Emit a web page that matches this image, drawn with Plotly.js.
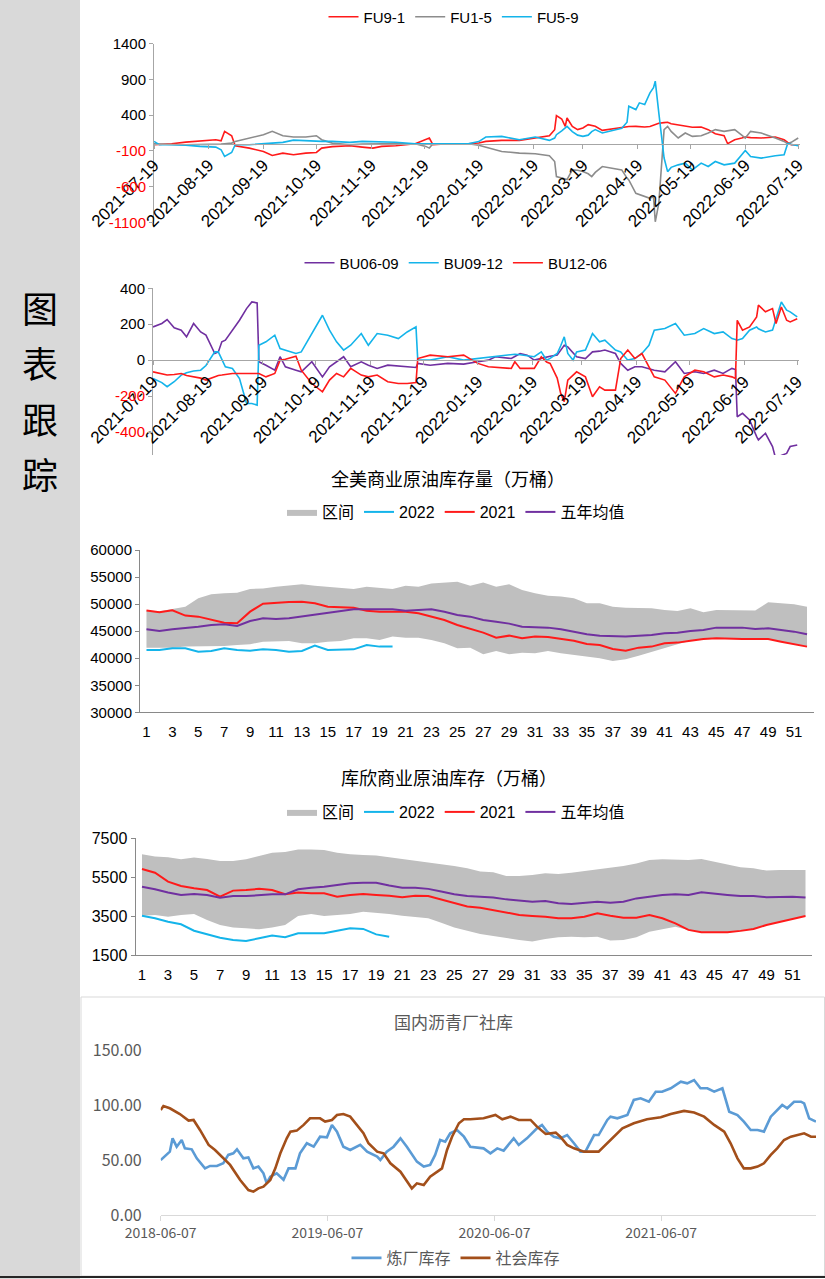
<!DOCTYPE html>
<html><head><meta charset="utf-8">
<script src="https://cdn.plot.ly/plotly-3.0.1.min.js"></script>
<style>html,body{margin:0;padding:0;background:#fff}#chart{width:825px;height:1279px}</style>
</head><body><div id="chart"></div>
<script>
// ---------- Panel 1: FU spreads ----------
const fuDates = ['2021-07-19','2021-07-22','2021-07-29','2021-08-06','2021-08-14','2021-08-23','2021-08-26','2021-08-28','2021-09-01','2021-09-03','2021-09-11','2021-09-19','2021-09-24','2021-09-30','2021-10-06','2021-10-13','2021-10-19','2021-10-22','2021-10-28','2021-11-07','2021-11-14','2021-11-20','2021-11-25','2021-12-03','2021-12-14','2021-12-20','2021-12-22','2021-12-24','2022-01-02','2022-01-13','2022-01-19','2022-01-23','2022-02-01','2022-02-11','2022-02-20','2022-02-28','2022-03-03','2022-03-04','2022-03-07','2022-03-09','2022-03-10','2022-03-13','2022-03-16','2022-03-19','2022-03-22','2022-03-24','2022-03-26','2022-03-30','2022-04-04','2022-04-10','2022-04-13','2022-04-14','2022-04-18','2022-04-20','2022-04-23','2022-04-26','2022-04-28','2022-04-29','2022-05-01','2022-05-04','2022-05-06','2022-05-08','2022-05-12','2022-05-16','2022-05-20','2022-05-25','2022-05-29','2022-06-02','2022-06-07','2022-06-09','2022-06-13','2022-06-17','2022-06-19','2022-06-22','2022-06-28','2022-07-06','2022-07-11','2022-07-13','2022-07-15','2022-07-19'];
const fu91 = [-14,-10,0,23,42,56,42,173,112,-28,-61,-108,-164,-131,-154,-131,-122,-61,-40,-28,-47,-61,-37,-28,0,56,80,-14,0,0,10,33,47,47,80,112,196,393,346,243,360,243,197,220,267,255,243,187,205,220,230,240,243,240,234,240,260,270,285,295,300,280,260,240,230,234,197,140,112,0,56,80,94,85,80,94,56,20,-14,-14];
const fu15 = [0,0,-10,-14,-14,-14,-5,0,9,30,80,126,173,112,94,94,112,56,9,-14,-5,0,0,0,0,-37,-61,0,0,0,-20,-47,-108,-131,-140,-168,-248,-459,-482,-490,-500,-365,-370,-388,-420,-459,-400,-318,-342,-365,-480,-505,-693,-710,-739,-763,-739,-1090,-833,197,243,173,80,150,103,112,150,197,173,180,197,120,80,173,150,80,33,0,20,80];
const fu59 = [33,-14,-14,-20,-37,-47,-84,-178,-122,-14,-14,0,5,19,50,40,33,33,33,19,33,30,33,20,0,0,0,0,0,0,30,94,103,56,94,47,80,126,180,230,243,170,120,103,120,170,197,150,180,215,300,524,477,571,548,711,782,875,430,-200,-390,-330,-295,-271,-365,-271,-318,-248,-295,-290,-271,-154,-94,-178,-201,-168,-154,0,-10,-28];
const spreadTicks = ['2021-07-19','2021-08-19','2021-09-19','2021-10-19','2021-11-19','2021-12-19','2022-01-19','2022-02-19','2022-03-19','2022-04-19','2022-05-19','2022-06-19','2022-07-19'];
const fuYTicks = [1400,900,400,-100,-600,-1100];

// ---------- Panel 2: BU spreads ----------
const buDates = ['2021-07-19','2021-07-24','2021-07-27','2021-07-31','2021-08-04','2021-08-07','2021-08-11','2021-08-15','2021-08-18','2021-08-21','2021-08-23','2021-08-25','2021-08-27','2021-08-29','2021-09-02','2021-09-06','2021-09-10','2021-09-13','2021-09-16','2021-09-17','2021-09-21','2021-09-26','2021-09-29','2021-10-02','2021-10-08','2021-10-11','2021-10-17','2021-10-23','2021-10-27','2021-10-31','2021-11-04','2021-11-08','2021-11-14','2021-11-18','2021-11-23','2021-11-29','2021-12-05','2021-12-10','2021-12-15','2021-12-16','2021-12-23','2022-01-02','2022-01-11','2022-01-19','2022-01-25','2022-01-29','2022-02-02','2022-02-07','2022-02-09','2022-02-12','2022-02-16','2022-02-20','2022-02-24','2022-02-27','2022-03-01','2022-03-05','2022-03-07','2022-03-09','2022-03-11','2022-03-14','2022-03-16','2022-03-21','2022-03-25','2022-03-29','2022-04-01','2022-04-07','2022-04-10','2022-04-14','2022-04-18','2022-04-22','2022-04-26','2022-04-29','2022-05-05','2022-05-11','2022-05-16','2022-05-22','2022-05-27','2022-06-02','2022-06-07','2022-06-12','2022-06-14','2022-06-15','2022-06-18','2022-06-22','2022-06-26','2022-06-27','2022-07-01','2022-07-05','2022-07-07','2022-07-10','2022-07-13','2022-07-15','2022-07-19'];
const bu0609 = [185,204,226,180,167,130,204,157,139,74,37,46,102,111,167,222,287,324,319,-9,-28,-56,19,-37,-56,-65,-9,-93,-37,-9,19,-37,-9,-28,-46,-28,-33,-37,-41,-18,-28,-18,-22,-9,0,19,15,9,20,37,28,0,10,19,22,28,55,83,74,40,19,9,46,50,56,37,-18,-56,-37,-37,-46,-56,-65,-9,-74,-65,-74,-56,-74,-46,-52,-315,-296,-333,-426,-444,-407,-481,-556,-530,-519,-481,-472];
const bu0912 = [-102,-125,-148,-120,-83,-70,-60,-56,-30,20,46,46,0,-37,-46,-102,-241,-241,-250,83,102,139,65,56,37,46,148,250,167,102,56,83,148,83,148,139,120,157,185,0,0,19,0,9,15,19,25,30,33,30,25,19,46,0,10,37,80,130,37,0,46,56,148,102,111,56,46,0,9,37,83,167,176,204,139,148,176,148,157,120,115,111,120,167,185,175,157,167,230,324,278,269,241];
const bu1206 = [-65,-75,-83,-80,-74,-85,-93,-100,-111,-100,-95,-85,-83,-80,-74,-74,-74,-74,-74,-74,-93,-74,0,5,22,-56,-130,-176,-111,-74,-93,-46,-83,-93,-83,-120,-130,-130,-125,9,28,19,28,-18,-37,-40,-46,-46,-9,-46,-46,-46,19,-10,-18,-100,-185,-231,-111,-80,-65,-93,-204,-148,-167,-167,9,56,9,37,-37,-93,-111,-185,-93,-56,-65,-93,-83,-93,-102,222,167,185,241,306,269,287,204,296,222,213,231];
const buYTicks = [400,200,0,-200,-400];

// ---------- Panel 3: US commercial crude stocks (10k bbl) ----------
const weeks = [1,2,3,4,5,6,7,8,9,10,11,12,13,14,15,16,17,18,19,20,21,22,23,24,25,26,27,28,29,30,31,32,33,34,35,36,37,38,39,40,41,42,43,44,45,46,47,48,49,50,51,52];
const weekTicks = [1,3,5,7,9,11,13,15,17,19,21,23,25,27,29,31,33,35,37,39,41,43,45,47,49,51];
const usUpper = [48800,48700,49100,49530,51070,51800,52000,52100,52800,52900,53200,53400,53650,53400,53200,53000,52800,53200,53000,52800,53400,53200,53800,54000,54150,53400,54000,53200,53650,52600,52000,51550,51400,51070,50140,50140,49530,49340,49340,49220,48900,48730,49220,48480,48900,48900,48900,48800,50330,50140,49960,49530];
const usLower = [41950,41950,41950,42140,42140,42260,42260,42440,42570,43060,43060,43180,42750,42750,43060,43180,43680,43680,43370,43990,43800,43800,43370,42750,41830,41950,40720,41330,40720,41030,40900,41330,40900,40600,40290,39980,39490,39800,40470,41210,41950,42570,43240,43550,43680,43550,43550,43550,43550,43060,42570,42140];
const us2022 = [41520,41520,41830,41830,41210,41330,41830,41520,41400,41640,41520,41210,41330,42320,41520,41640,41640,42440,42140,42140];
const us2021 = [48800,48480,48850,47870,47680,47060,46570,46450,48600,50080,50270,50390,50450,50140,49530,49400,49340,48790,48600,48600,48600,48300,47680,47060,46140,45400,44720,43800,44170,43680,43990,43920,43550,43240,42630,42440,41700,41400,41950,42140,42750,42880,43240,43550,43680,43550,43550,43550,43550,43060,42570,42140];
const usAvg = [45340,45030,45340,45520,45830,46140,46260,45950,46880,47370,47250,47370,47680,48110,48300,48600,49040,49040,49040,49040,48790,48900,49040,48600,47990,47680,47060,46750,46390,45830,45710,45650,45340,44910,44420,44170,44110,43990,44170,44300,44600,44720,45030,45220,45650,45650,45650,45400,45520,45220,44910,44420];
const usYTicks = [30000,35000,40000,45000,50000,55000,60000];

// ---------- Panel 4: Cushing commercial crude stocks ----------
const cuUpper = [6680,6560,6520,6420,6510,6440,6330,6330,6420,6590,6760,6800,6930,6930,6900,6760,6680,6640,6610,6520,6420,6330,6250,6160,6080,5960,5790,5750,5560,5560,5610,5700,5670,5730,5820,5910,5990,6080,6210,6390,6420,6390,6390,6440,6300,6160,6010,5960,5840,5870,5870,5870];
const cuLower = [3520,3560,3470,3560,3610,3300,3040,2920,2870,2820,2910,3040,3510,3610,3510,3560,3610,3730,3680,3610,3520,3440,3390,3160,2920,2750,2580,2480,2360,2270,2190,2320,2410,2440,2410,2440,2240,2270,2410,2700,2820,2950,2790,2670,2670,2670,2740,2840,3040,3210,3350,3510];
const cu2022 = [3520,3390,3210,3080,2750,2580,2390,2270,2220,2360,2500,2410,2620,2620,2620,2750,2870,2840,2560,2440];
const cu2021 = [5920,5730,5270,5050,4930,4840,4500,4810,4840,4900,4840,4620,4710,4670,4670,4500,4590,4640,4590,4550,4470,4550,4530,4360,4190,3990,3930,3810,3680,3560,3510,3470,3390,3390,3470,3640,3520,3420,3420,3560,3390,3130,2790,2670,2670,2670,2740,2840,3040,3210,3350,3510];
const cuAvg = [5010,4880,4710,4590,4640,4590,4450,4530,4530,4590,4620,4620,4880,4960,5010,5100,5190,5220,5220,5070,4960,4960,4900,4760,4620,4530,4500,4450,4360,4290,4240,4280,4160,4120,4190,4240,4190,4240,4410,4500,4590,4620,4590,4720,4670,4590,4530,4530,4470,4500,4500,4450];
const cuYTicks = [1500,3500,5500,7500];

// ---------- Panel 5: domestic asphalt inventories ----------
const refDates = ['2018-06-07','2018-06-20','2018-06-27','2018-07-03','2018-07-12','2018-07-23','2018-07-30','2018-08-14','2018-08-25','2018-09-12','2018-09-23','2018-10-08','2018-10-22','2018-11-02','2018-11-13','2018-11-21','2018-12-05','2018-12-16','2018-12-27','2019-01-07','2019-01-18','2019-01-25','2019-02-02','2019-02-16','2019-03-03','2019-03-14','2019-03-29','2019-04-08','2019-04-23','2019-05-08','2019-05-22','2019-06-06','2019-06-17','2019-06-28','2019-07-12','2019-07-27','2019-08-18','2019-09-02','2019-09-24','2019-10-01','2019-10-15','2019-10-30','2019-11-14','2019-11-28','2019-12-20','2020-01-04','2020-01-18','2020-01-29','2020-02-09','2020-02-20','2020-03-02','2020-03-17','2020-04-01','2020-04-15','2020-05-14','2020-05-29','2020-06-13','2020-06-27','2020-07-19','2020-07-30','2020-08-17','2020-09-08','2020-09-19','2020-09-30','2020-10-15','2020-10-29','2020-11-13','2020-11-28','2020-12-12','2020-12-23','2021-01-11','2021-01-21','2021-02-09','2021-02-16','2021-03-03','2021-03-25','2021-04-08','2021-04-23','2021-05-11','2021-05-26','2021-06-09','2021-06-28','2021-07-20','2021-08-03','2021-08-18','2021-09-01','2021-09-16','2021-10-01','2021-10-19','2021-11-03','2021-11-21','2021-12-05','2021-12-20','2022-01-04','2022-01-18','2022-02-02','2022-02-16','2022-02-27','2022-03-10','2022-03-25','2022-04-09','2022-04-16','2022-04-27','2022-05-12'];
const refVals = [50.0,54.6,57.6,69.7,62.1,68.2,60.6,59.7,51.5,42.4,44.6,44.6,47,54.6,56.1,59.7,51.5,52.4,42.4,44,37.9,29,34.9,37.9,32,42.4,42.4,56.1,65.2,62.1,71.2,70.6,81.9,75.8,62.1,59.1,63.7,57.6,53.1,50,57.6,62.1,69.7,62.1,48.5,44,45.5,54.6,68.2,66.7,74.3,77.3,71.2,62.1,60.6,56.1,60.6,58.5,69.7,63.7,69.7,78.8,81.9,75.8,71.2,69.7,72.7,65.2,57.6,57.6,72.7,72.7,86.4,89.4,87.9,90.9,104.6,106.1,103,112.1,112.1,115.2,121.2,119.7,122.7,115.2,115.2,112.1,115.2,93.9,90.9,84.9,77.3,77.3,75.8,89.4,95.5,100,97,103,103,101.5,87.9,84.9];
const socDates = ['2018-06-07','2018-06-13','2018-06-27','2018-07-19','2018-08-07','2018-08-18','2018-09-01','2018-09-20','2018-10-04','2018-10-19','2018-11-06','2018-11-28','2018-12-16','2018-12-27','2019-01-07','2019-01-18','2019-02-02','2019-02-13','2019-02-24','2019-03-10','2019-03-18','2019-04-01','2019-04-16','2019-04-30','2019-05-22','2019-06-02','2019-06-17','2019-06-28','2019-07-12','2019-07-27','2019-08-11','2019-08-25','2019-09-05','2019-09-24','2019-10-08','2019-10-23','2019-11-14','2019-12-09','2019-12-20','2020-01-04','2020-01-18','2020-02-13','2020-02-24','2020-03-06','2020-03-21','2020-04-01','2020-04-15','2020-05-14','2020-06-09','2020-06-24','2020-07-12','2020-07-30','2020-08-25','2020-09-08','2020-09-27','2020-10-19','2020-10-29','2020-11-13','2020-11-28','2020-12-20','2021-01-21','2021-02-16','2021-03-14','2021-04-08','2021-05-07','2021-06-06','2021-06-28','2021-07-27','2021-08-18','2021-09-09','2021-10-01','2021-10-23','2021-11-06','2021-11-21','2021-12-05','2021-12-20','2022-01-04','2022-01-18','2022-02-02','2022-02-16','2022-03-03','2022-03-18','2022-04-01','2022-04-16','2022-05-01','2022-05-12'];
const socVals = [95.5,99.1,97,91.8,85.8,86.4,77.3,63.7,59.1,53.1,45.5,31.8,22.7,21.2,24.2,25.8,31.8,42.4,56.1,69.7,75.8,76.7,81.9,87.9,87.9,84.9,86.4,90.9,91.8,89.4,81.9,74.3,65.2,57.6,56.1,47,39.4,24.2,28.8,27.3,34.9,42.4,59.1,71.2,83.4,87,87,87.9,90.9,87,89.4,86.4,86.4,80.3,73.7,74.9,71.2,63.7,60.6,57.6,57.6,68.2,78.8,83.4,87,88.8,91.8,94.6,93.1,89.4,81.9,75.8,65.2,51.5,42.4,42.4,44,47,54.6,60.6,68.2,71.2,72.7,74.3,71.2,71.2];
const asphaltTicks = ['2018-06-07','2019-06-07','2020-06-07','2021-06-07'];
const asphaltYTicks = [0,50,100,150];

// ---------- layout helpers ----------
const W = 825, H = 1279;
const px = x => x / W;
const py = y => 1 - y / H;
const NUM = 'Liberation Sans, Arial, sans-serif';
const CJK = 'Noto Sans CJK SC, sans-serif';
const MIX = 'Liberation Sans, Noto Sans CJK SC, sans-serif';
const RED = '#ff1a1a', BLUE = '#14b4ea', GRAY = '#8c8c8c', PURPLE = '#7030a0', BAND = '#bfbfbf';
const redNeg = vals => vals.map(v => v < 0 ? '<span style="color:#ff0000">' + v + '</span>' : String(v));

const traces = [
  {x: fuDates, y: fu91, name: 'FU9-1', type: 'scatter', mode: 'lines', line: {color: RED, width: 1.6}, xaxis: 'x', yaxis: 'y', legend: 'legend'},
  {x: fuDates, y: fu15, name: 'FU1-5', type: 'scatter', mode: 'lines', line: {color: GRAY, width: 1.6}, xaxis: 'x', yaxis: 'y', legend: 'legend'},
  {x: fuDates, y: fu59, name: 'FU5-9', type: 'scatter', mode: 'lines', line: {color: BLUE, width: 1.6}, xaxis: 'x', yaxis: 'y', legend: 'legend'},

  {x: buDates, y: bu0609, name: 'BU06-09', type: 'scatter', mode: 'lines', line: {color: PURPLE, width: 1.6}, xaxis: 'x2', yaxis: 'y2', legend: 'legend2'},
  {x: buDates, y: bu0912, name: 'BU09-12', type: 'scatter', mode: 'lines', line: {color: BLUE, width: 1.6}, xaxis: 'x2', yaxis: 'y2', legend: 'legend2'},
  {x: buDates, y: bu1206, name: 'BU12-06', type: 'scatter', mode: 'lines', line: {color: RED, width: 1.6}, xaxis: 'x2', yaxis: 'y2', legend: 'legend2'},

  {x: weeks, y: usLower, type: 'scatter', mode: 'lines', line: {width: 0, color: BAND}, showlegend: false, hoverinfo: 'skip', xaxis: 'x3', yaxis: 'y3', legend: 'legend3'},
  {x: weeks, y: usUpper, name: '区间', type: 'scatter', mode: 'lines', fill: 'tonexty', fillcolor: BAND, line: {width: 0, color: BAND}, xaxis: 'x3', yaxis: 'y3', legend: 'legend3'},
  {x: weeks.slice(0, us2022.length), y: us2022, name: '2022', type: 'scatter', mode: 'lines', line: {color: BLUE, width: 2}, xaxis: 'x3', yaxis: 'y3', legend: 'legend3'},
  {x: weeks, y: us2021, name: '2021', type: 'scatter', mode: 'lines', line: {color: RED, width: 2}, xaxis: 'x3', yaxis: 'y3', legend: 'legend3'},
  {x: weeks, y: usAvg, name: '五年均值', type: 'scatter', mode: 'lines', line: {color: PURPLE, width: 2}, xaxis: 'x3', yaxis: 'y3', legend: 'legend3'},

  {x: weeks, y: cuLower, type: 'scatter', mode: 'lines', line: {width: 0, color: BAND}, showlegend: false, hoverinfo: 'skip', xaxis: 'x4', yaxis: 'y4', legend: 'legend4'},
  {x: weeks, y: cuUpper, name: '区间', type: 'scatter', mode: 'lines', fill: 'tonexty', fillcolor: BAND, line: {width: 0, color: BAND}, xaxis: 'x4', yaxis: 'y4', legend: 'legend4'},
  {x: weeks.slice(0, cu2022.length), y: cu2022, name: '2022', type: 'scatter', mode: 'lines', line: {color: BLUE, width: 2}, xaxis: 'x4', yaxis: 'y4', legend: 'legend4'},
  {x: weeks, y: cu2021, name: '2021', type: 'scatter', mode: 'lines', line: {color: RED, width: 2}, xaxis: 'x4', yaxis: 'y4', legend: 'legend4'},
  {x: weeks, y: cuAvg, name: '五年均值', type: 'scatter', mode: 'lines', line: {color: PURPLE, width: 2}, xaxis: 'x4', yaxis: 'y4', legend: 'legend4'},

  {x: refDates, y: refVals, name: '炼厂库存', type: 'scatter', mode: 'lines', line: {color: '#5b9bd5', width: 2.6}, xaxis: 'x5', yaxis: 'y5', legend: 'legend5'},
  {x: socDates, y: socVals, name: '社会库存', type: 'scatter', mode: 'lines', line: {color: '#a34f1a', width: 2.6}, xaxis: 'x5', yaxis: 'y5', legend: 'legend5'}
];

const axBase = {showgrid: false, zeroline: false, fixedrange: true};
const legBase = {orientation: 'h', xanchor: 'center', yanchor: 'middle', bgcolor: 'rgba(0,0,0,0)', itemwidth: 30, borderwidth: 0, traceorder: 'normal'};
const ann = (text, x, y, font) => ({text: text, xref: 'paper', yref: 'paper', x: px(x), y: py(y), xanchor: 'center', yanchor: 'middle', showarrow: false, font: font});

const layout = {
  width: W, height: H,
  margin: {l: 0, r: 0, t: 0, b: 0, pad: 0},
  paper_bgcolor: '#ffffff', plot_bgcolor: 'rgba(0,0,0,0)',
  font: {family: NUM, color: '#000'},
  hovermode: false,
  // panel 1
  xaxis: Object.assign({}, axBase, {domain: [px(154), px(800)], type: 'date', range: ['2021-07-19', '2022-07-20'], anchor: 'free', position: py(143.7),
    showline: true, linecolor: '#a6a6a6', linewidth: 1, ticks: 'outside', ticklen: 4, tickcolor: '#a6a6a6',
    tickmode: 'array', tickvals: spreadTicks, ticktext: spreadTicks, tickangle: -45, tickfont: {family: NUM, size: 17, color: '#000'}}),
  yaxis: Object.assign({}, axBase, {domain: [py(222.5), py(43.5)], range: [-1100, 1400], anchor: 'x',
    tickmode: 'array', tickvals: fuYTicks, ticktext: redNeg(fuYTicks), showline: true, linecolor: '#a6a6a6', ticks: 'outside', ticklen: 4, tickcolor: '#a6a6a6',
    tickfont: {family: NUM, size: 15, color: '#000'}}),
  // panel 2
  xaxis2: Object.assign({}, axBase, {domain: [px(153), px(799)], type: 'date', range: ['2021-07-19', '2022-07-20'], anchor: 'free', position: py(360.2),
    showline: true, linecolor: '#a6a6a6', linewidth: 1, ticks: 'outside', ticklen: 4, tickcolor: '#a6a6a6',
    tickmode: 'array', tickvals: spreadTicks, ticktext: spreadTicks, tickangle: -45, tickfont: {family: NUM, size: 17, color: '#000'}}),
  yaxis2: Object.assign({}, axBase, {domain: [py(455), py(288.3)], range: [-528, 400], anchor: 'x2',
    tickmode: 'array', tickvals: buYTicks, ticktext: redNeg(buYTicks), showline: true, linecolor: '#a6a6a6', ticks: 'outside', ticklen: 4, tickcolor: '#a6a6a6',
    tickfont: {family: NUM, size: 15, color: '#000'}}),
  // panel 3
  xaxis3: Object.assign({}, axBase, {domain: [px(140), px(813.5)], range: [0.5, 52.5], anchor: 'y3', showline: true, linecolor: '#898989',
    tickmode: 'array', tickvals: weekTicks, ticktext: weekTicks.map(String), ticks: '', ticklabelstandoff: 6, tickfont: {family: NUM, size: 15, color: '#000'}}),
  yaxis3: Object.assign({}, axBase, {domain: [py(712.3), py(550)], range: [30000, 60000], anchor: 'x3', tickmode: 'array', tickvals: usYTicks, ticktext: usYTicks.map(String),
    showline: true, linecolor: '#898989', ticks: 'outside', ticklen: 4, tickcolor: '#898989', tickfont: {family: NUM, size: 15, color: '#000'}}),
  // panel 4
  xaxis4: Object.assign({}, axBase, {domain: [px(135.5), px(812)], range: [0.5, 52.5], anchor: 'y4', showline: true, linecolor: '#898989',
    tickmode: 'array', tickvals: weekTicks, ticktext: weekTicks.map(String), ticks: '', ticklabelstandoff: 6, tickfont: {family: NUM, size: 15, color: '#000'}}),
  yaxis4: Object.assign({}, axBase, {domain: [py(955), py(838.3)], range: [1500, 7500], anchor: 'x4', tickmode: 'array', tickvals: cuYTicks, ticktext: cuYTicks.map(String),
    showline: true, linecolor: '#898989', ticks: 'outside', ticklen: 4, tickcolor: '#898989', tickfont: {family: NUM, size: 16, color: '#000'}}),
  // panel 5
  xaxis5: Object.assign({}, axBase, {domain: [px(160.7), px(816)], type: 'date', range: ['2018-06-07', '2022-05-12'], anchor: 'y5',
    showline: true, linecolor: '#d9d9d9', linewidth: 1, ticks: 'outside', ticklen: 5, tickcolor: '#d9d9d9',
    tickmode: 'array', tickvals: asphaltTicks, ticktext: asphaltTicks, tickfont: {family: CJK, size: 14, color: '#595959'}}),
  yaxis5: Object.assign({}, axBase, {domain: [py(1215), py(1050)], range: [0, 150], anchor: 'x5', tickmode: 'array', tickvals: asphaltYTicks, ticktext: asphaltYTicks.map(v => v.toFixed(2)),
    showline: false, ticks: '', ticklabelstandoff: 18, tickfont: {family: CJK, size: 16, color: '#595959'}}),

  legend: Object.assign({}, legBase, {x: px(454), y: py(17), font: {family: NUM, size: 15, color: '#000'}}),
  legend2: Object.assign({}, legBase, {x: px(456), y: py(263), font: {family: NUM, size: 15, color: '#000'}}),
  legend3: Object.assign({}, legBase, {x: px(456), y: py(512), font: {family: MIX, size: 16, color: '#000'}}),
  legend4: Object.assign({}, legBase, {x: px(456), y: py(812), font: {family: MIX, size: 16, color: '#000'}}),
  legend5: Object.assign({}, legBase, {x: px(456), y: py(1258), font: {family: CJK, size: 16, color: '#595959'}}),

  shapes: [
    {type: 'rect', xref: 'paper', yref: 'paper', x0: 0, x1: px(80), y0: 0, y1: 1, fillcolor: '#d9d9d9', line: {width: 0}, layer: 'below'},
    {type: 'rect', xref: 'paper', yref: 'paper', x0: px(81), x1: px(824.5), y0: py(1276), y1: py(997), fillcolor: 'rgba(0,0,0,0)', line: {width: 1, color: '#d9d9d9'}, layer: 'below'},
    {type: 'line', xref: 'paper', yref: 'paper', x0: 0, x1: 1, y0: py(1277), y1: py(1277), line: {width: 2, color: '#262626'}}
  ],
  annotations: [
    ann('全美商业原油库存量（万桶）', 448, 478, {family: CJK, size: 18, color: '#000'}),
    ann('库欣商业原油库存（万桶）', 449, 777, {family: CJK, size: 18, color: '#000'}),
    ann('国内沥青厂社库', 453, 1021, {family: CJK, size: 17, color: '#595959'}),
    ann('图', 40, 307, {family: CJK, size: 36, color: '#000'}),
    ann('表', 40, 362, {family: CJK, size: 36, color: '#000'}),
    ann('跟', 40, 418, {family: CJK, size: 36, color: '#000'}),
    ann('踪', 40, 473, {family: CJK, size: 36, color: '#000'})
  ]
};

Plotly.newPlot('chart', traces, layout, {staticPlot: true, displayModeBar: false});
</script></body></html>
